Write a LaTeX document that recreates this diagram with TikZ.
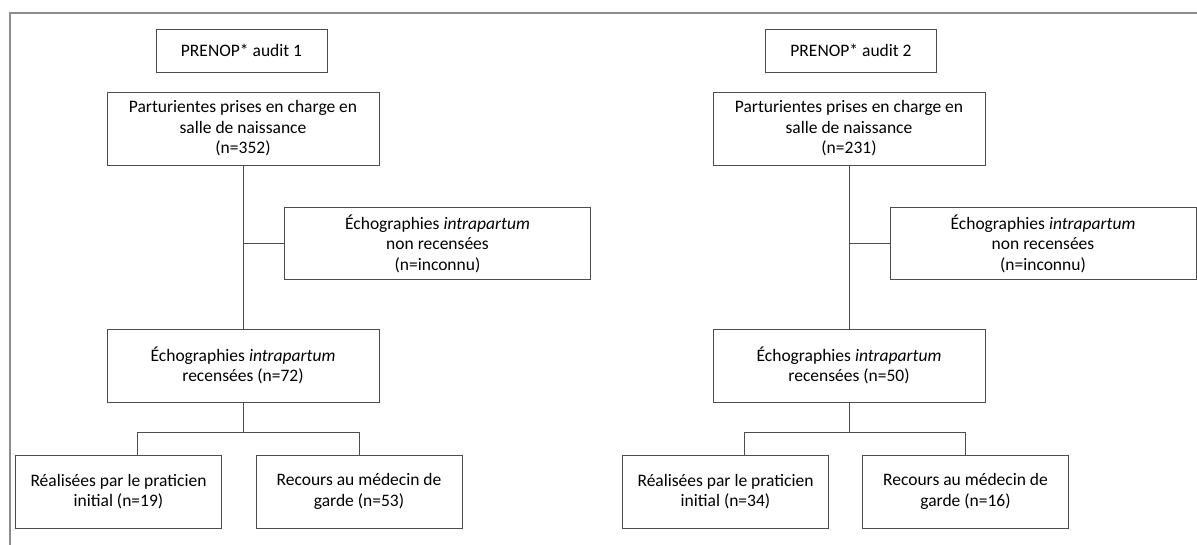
\documentclass[tikz,border=0pt]{standalone}
\usepackage{fontspec}
\setmainfont{Carlito}
\usetikzlibrary{positioning}
\tikzstyle{box} = [rectangle, draw=black!70, line width=0.9pt, align=center, text centered, inner sep=2pt, font=\fontsize{17.5}{20.5}\selectfont]
\tikzstyle{line} = [draw=black!70, line width=0.9pt]
\tikzstyle{audit} = [box, minimum width=171pt, minimum height=43pt]
\tikzstyle{main} = [box, minimum width=272pt, minimum height=73pt]
\tikzstyle{side} = [box, minimum width=306pt, minimum height=72pt]
\tikzstyle{leaf} = [box, minimum width=206pt, minimum height=73pt]

\begin{document}
\begin{tikzpicture}[x=1pt, y=-1pt]
\useasboundingbox (0,0) rectangle (1197,544);
\clip (0,0) rectangle (1197,544);
\draw [black!45, line width=1.3pt] (10,13) rectangle (1220,570);

% audit 1
\node (audit1) [audit] at (241.5,50.5) {PRENOP* audit 1};
\node (part1) [main] at (243,128.5) {Parturientes prises en charge en\\salle de naissance\\(n=352)};
\node (nonrec1) [side] at (437.5,243.5) {Échographies \textit{intrapartum}\\non recensées\\(n=inconnu)};
\node (rec1) [main] at (243,365.5) {Échographies \textit{intrapartum}\\recensées (n=72)};
\node (real1) [leaf] at (118.5,491.5) {Réalisées par le praticien\\initial (n=19)};
\node (med1) [leaf] at (359,491.5) {Recours au médecin de\\garde (n=53)};

\draw [line] (part1) -- (rec1);
\draw [line] (part1.south |- nonrec1.west) -- (nonrec1.west);
\draw [line] (rec1.south) -- ++(0,30) coordinate (fork1);
\draw [line] ([xshift=18.5pt]real1.north) |- (fork1) -| (med1.north);

% audit 2
\node (audit2) [audit] at (851,50.5) {PRENOP* audit 2};
\node (part2) [main] at (849,128.5) {Parturientes prises en charge en\\salle de naissance\\(n=231)};
\node (nonrec2) [side] at (1043,243.5) {Échographies \textit{intrapartum}\\non recensées\\(n=inconnu)};
\node (rec2) [main] at (849,365.5) {Échographies \textit{intrapartum}\\recensées (n=50)};
\node (real2) [leaf] at (725.5,491.5) {Réalisées par le praticien\\initial (n=34)};
\node (med2) [leaf] at (965.5,491.5) {Recours au médecin de\\garde (n=16)};

\draw [line] (part2) -- (rec2);
\draw [line] (part2.south |- nonrec2.west) -- (nonrec2.west);
\draw [line] (rec2.south) -- ++(0,30) coordinate (fork2);
\draw [line] ([xshift=18.5pt]real2.north) |- (fork2) -| (med2.north);

\end{tikzpicture}
\end{document}
